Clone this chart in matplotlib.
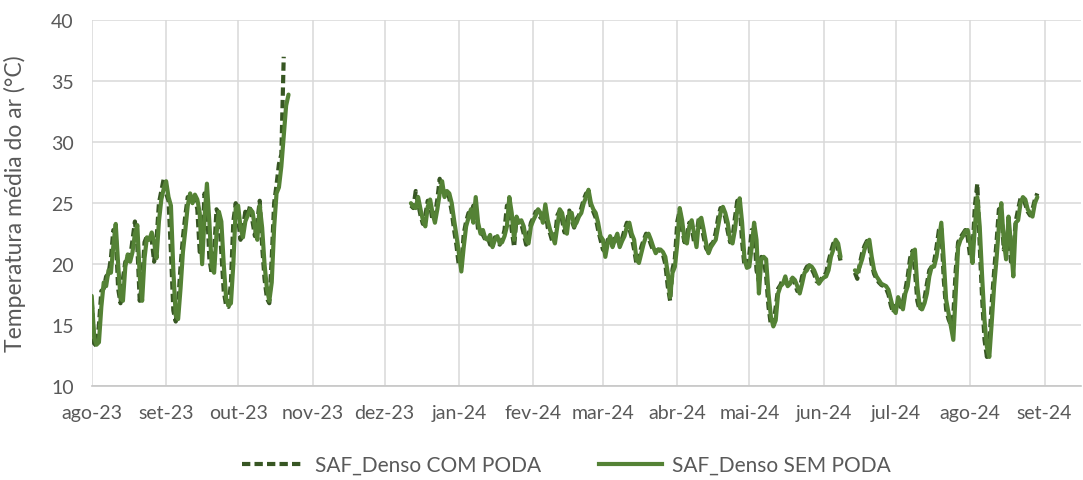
import pandas as pd
import matplotlib.pyplot as plt
from matplotlib.lines import Line2D

plt.rcParams['font.family'] = ['Lato', 'DejaVu Sans']

# daily mean air temperature, one list per continuous stretch of readings
inicio_1 = "2023-08-01"
inicio_2 = "2023-12-12"
inicio_3 = "2024-06-14"

com_poda_1 = [
    17.0, 13.5, 13.3, 15.0, 17.8, 18.0, 19.0, 19.2, 20.5, 22.8, 22.5, 18.0, 16.8, 18.8, 20.2, 20.0,
    20.5, 22.0, 23.5, 21.5, 17.0, 18.5, 21.8, 22.3, 22.2, 22.0, 20.2, 22.0, 25.0, 26.0, 27.0,
    25.8, 25.2, 21.0, 16.2, 15.3, 16.8, 19.8, 22.2, 24.0, 25.5, 25.3, 25.7, 25.5, 24.5, 21.0,
    21.5, 25.8, 25.0, 20.5, 19.2, 21.0, 24.5, 24.0, 21.0, 17.8, 16.6, 16.5, 18.5, 23.5, 25.0,
    23.8, 22.0, 23.0, 24.3, 24.0, 24.8, 23.5, 22.3, 23.5, 25.2, 21.5, 18.8, 17.2, 16.8, 20.5,
    25.0, 26.5, 28.2, 29.0, 37.0,
]
sem_poda_1 = [
    17.4, 14.0, 13.4, 13.6, 16.5, 18.5, 18.2, 19.5, 19.3, 21.5, 23.3, 20.0, 17.2, 17.0, 19.8, 20.8,
    20.2, 21.0, 22.5, 23.2, 19.0, 17.0, 20.5, 22.2, 22.0, 22.6, 21.8, 20.5, 23.5, 25.3, 26.2,
    26.8, 25.5, 24.8, 19.5, 15.8, 15.5, 18.0, 21.0, 22.8, 24.8, 25.8, 25.0, 25.7, 25.3, 24.2,
    20.0, 23.8, 26.6, 23.5, 19.8, 19.3, 22.5, 24.3, 23.5, 20.0, 17.2, 16.6, 16.8, 20.0, 24.6,
    24.8, 23.0, 22.2, 23.5, 24.0, 24.5, 24.3, 23.0, 22.0, 24.8, 23.0, 20.0, 18.0, 17.0, 18.5,
    23.0, 25.8, 26.3, 28.0, 30.5, 33.0, 33.9,
]

com_poda_2 = [
    24.8, 24.6, 26.0, 25.0, 24.0, 23.3, 24.0, 25.2, 24.8, 23.6, 24.0, 25.3, 27.0, 26.0, 25.8,
    26.0, 25.4, 24.3, 22.8, 21.5,
    19.8, 19.8, 22.5, 23.5, 24.2, 24.0, 24.8, 24.8, 22.8, 22.6, 22.4, 22.0, 22.2, 21.6, 21.6,
    22.2, 21.9, 21.6, 22.0, 22.8, 24.8, 24.8, 22.8, 21.4, 23.8, 23.4, 23.3, 22.5, 21.6, 22.4, 23.4,
    23.8, 24.3, 24.4, 23.8, 24.0, 24.6, 23.0, 22.5, 21.8, 22.2, 24.0, 24.4, 23.6, 22.6, 23.5,
    24.4, 23.6, 23.0, 23.7, 24.0, 24.6, 25.3, 25.8, 25.8, 24.7, 24.3, 23.8, 22.8, 22.0,
    21.2, 21.0, 22.0, 21.8, 21.6, 22.3, 22.0, 21.6, 22.1, 22.8, 23.4, 22.9, 22.2, 21.2, 20.0,
    20.5, 21.4, 22.0, 22.5, 22.2, 21.6, 21.1, 21.0, 21.2, 21.1, 20.8, 20.0, 18.2, 17.0, 19.6, 20.5,
    23.5, 24.4, 22.8, 21.8, 22.4, 23.4, 23.0, 21.8, 22.5, 23.8, 23.2, 22.2, 21.3, 21.0, 21.6,
    21.8, 22.6, 23.8, 24.6, 24.5, 23.8, 22.7, 21.8, 22.2, 23.8, 25.2, 24.8, 21.8, 19.8, 19.9,
    20.8, 22.8, 22.8, 19.5, 18.6, 20.6, 20.5, 19.0, 16.5, 15.0, 15.0, 16.5, 18.0, 18.3, 18.8,
    18.6, 18.3, 18.7, 18.8, 18.4, 17.8, 18.0, 19.0, 19.4, 19.8, 19.9, 19.6, 19.2, 18.6, 18.5, 18.8,
    19.0, 19.3, 20.2, 21.0, 21.7, 21.9, 21.2, 20.3,
]
sem_poda_2 = [
    25.0, 24.7, 24.6, 25.5, 24.5, 23.6, 23.1, 24.7, 25.3, 24.2, 23.4, 24.5, 25.8, 26.8, 25.5,
    26.0, 25.8, 25.0, 23.6, 22.3,
    20.9, 19.4, 21.4, 23.1, 23.8, 24.5, 23.4, 25.5, 23.4, 22.5, 22.8, 22.1, 22.0, 22.4, 21.4,
    22.0, 22.3, 21.7, 21.8, 22.3, 23.1, 25.5, 24.2, 22.0, 23.9, 23.4, 23.6, 23.1, 22.0, 21.7, 23.1,
    23.6, 24.0, 24.5, 24.2, 23.4, 24.9, 23.6, 22.8, 22.3, 21.7, 23.1, 24.5, 24.2, 23.1, 22.5,
    24.2, 24.2, 23.1, 23.4, 23.9, 24.2, 25.0, 25.5, 26.1, 25.0, 24.5, 24.2, 23.4, 22.3,
    22.0, 20.6, 21.7, 22.3, 21.4, 22.0, 22.5, 21.4, 21.9, 22.3, 23.1, 23.4, 22.5, 22.0, 20.4,
    20.1, 20.9, 21.7, 22.3, 22.5, 22.0, 21.4, 20.9, 21.2, 21.2, 21.0, 20.6, 19.3, 17.3, 19.3, 19.8,
    21.7, 24.6, 23.6, 22.0, 21.7, 23.1, 23.6, 22.5, 21.4, 23.6, 23.8, 22.8, 21.7, 20.9, 21.4,
    21.7, 22.0, 23.1, 24.2, 24.7, 24.2, 23.4, 22.0, 21.7, 22.8, 24.5, 25.4, 23.4, 20.4, 19.7,
    19.8, 21.4, 23.4, 22.0, 17.6, 20.4, 20.6, 20.4, 17.6, 15.7, 14.9, 15.4, 17.6, 18.2, 18.4,
    19.0, 18.2, 18.4, 18.9, 18.7, 18.2, 17.6, 18.4, 19.3, 19.5, 19.9, 19.8, 19.5, 19.0, 18.4, 18.7,
    18.9, 19.0, 19.5, 20.6, 21.2, 22.0, 21.7, 20.6,
]

com_poda_3 = [
    19.3, 18.8, 20.0, 20.9, 21.5, 21.9, 21.4, 20.0, 19.2, 18.8, 18.5, 18.3, 18.2, 18.0, 17.5,
    16.6, 16.0,
    16.6, 17.0, 16.5, 16.9, 17.9, 19.0, 20.5, 21.1, 19.5, 17.0, 16.2, 16.5, 17.2, 18.4, 19.5,
    19.8, 20.2, 21.4, 22.8, 23.0, 18.8, 16.3, 15.5, 15.0, 15.8, 19.5, 21.8, 22.2, 22.5, 22.8, 22.2,
    20.6, 21.2, 24.8, 26.6, 21.5, 17.2, 13.8, 12.4, 13.5, 16.8, 19.4, 21.8, 24.5, 24.6, 21.2,
    22.0, 23.0, 20.2, 21.0, 23.5, 24.5, 25.4, 25.4, 24.9, 24.3, 24.0, 24.5, 25.3, 25.8,
]
sem_poda_3 = [
    19.5, 19.3, 19.8, 20.4, 21.2, 21.7, 22.0, 20.6, 19.5, 19.0, 18.7, 18.4, 18.3, 18.2, 17.9,
    17.1, 16.3,
    16.0, 17.3, 16.8, 16.3, 17.6, 18.2, 19.8, 20.9, 21.2, 18.2, 16.5, 16.3, 16.8, 17.6, 19.0,
    19.8, 19.8, 20.6, 22.0, 23.4, 20.4, 17.1, 16.0, 14.9, 13.8, 17.6, 21.4, 22.0, 22.3, 22.7, 22.8,
    21.7, 20.1, 23.1, 25.5, 23.1, 19.0, 15.4, 13.2, 12.4, 15.2, 18.2, 20.4, 23.1, 25.0, 22.0,
    20.4, 23.9, 21.7, 19.0, 23.4, 23.6, 25.0, 25.5, 25.3, 24.5, 24.2, 23.9, 25.0, 25.5,
]

meses = ["jan", "fev", "mar", "abr", "mai", "jun", "jul", "ago", "set", "out", "nov", "dez"]


def serie_diaria(trechos):
    # glue the stretches onto one daily index; missing days stay NaN so the line breaks
    partes = [pd.Series(v, index=pd.date_range(ini, periods=len(v), freq="D")) for ini, v in trechos]
    s = pd.concat(partes)
    dias = pd.date_range(s.index.min(), s.index.max(), freq="D")
    return s.reindex(dias)


com = serie_diaria([(inicio_1, com_poda_1), (inicio_2, com_poda_2), (inicio_3, com_poda_3)])
sem = serie_diaria([(inicio_1, sem_poda_1), (inicio_2, sem_poda_2), (inicio_3, sem_poda_3)])

cor_com = "#375623"
cor_sem = "#548235"
cinza = "#595959"
lw = 3.0
tracejado = (0, (2.0, 1.0))

fig = plt.figure(figsize=(10.83, 4.81), dpi=100)
ax = fig.add_axes([0.0847, 0.195, 0.913, 0.761])

ax.plot(com.index, com.values, color=cor_com, lw=lw, ls=tracejado)
ax.plot(sem.index, sem.values, color=cor_sem, lw=lw, solid_capstyle="round")

ticks = pd.date_range("2023-08-01", "2024-09-01", freq="MS")
ax.set_xticks(ticks)
ax.set_xticklabels([f"{meses[d.month - 1]}-{d:%y}" for d in ticks])
ax.set_xlim(pd.Timestamp("2023-08-01"), pd.Timestamp("2024-09-16"))
ax.set_ylim(10, 40)
ax.set_yticks(range(10, 41, 5))

ax.grid(True, color="#d9d9d9", lw=1.1)
ax.set_axisbelow(True)
for lado in ["top", "right", "left"]:
    ax.spines[lado].set_visible(False)
ax.spines["bottom"].set_color("#c6c6c6")
ax.spines["bottom"].set_linewidth(1.2)
ax.tick_params(axis="both", length=0, colors=cinza, labelsize=14)
ax.tick_params(axis="x", pad=13)
ax.tick_params(axis="y", pad=13)

ax.set_ylabel("Temperatura média do ar (°C)", color=cinza, fontsize=16.5)
ax.yaxis.set_label_coords(-0.066, 0.5)

itens = [
    Line2D([], [], color=cor_com, lw=lw, ls=tracejado),
    Line2D([], [], color=cor_sem, lw=lw),
]
fig.legend(itens, ["SAF_Denso COM PODA", "SAF_Denso SEM PODA"], loc="center",
           bbox_to_anchor=(0.523, 0.031), ncol=2, frameon=False, fontsize=15,
           handlelength=3.0, handletextpad=0.5, columnspacing=2.8, labelcolor=cinza)

fig.savefig("out.png", dpi=100)
